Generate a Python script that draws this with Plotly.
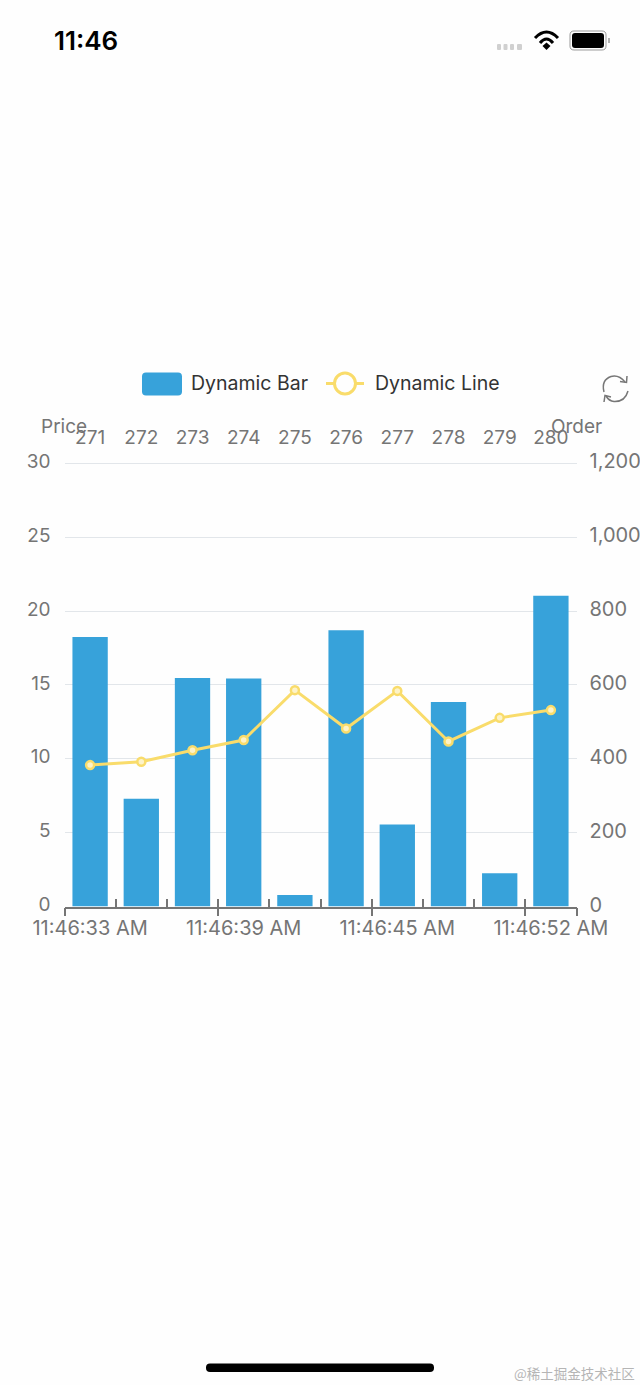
import plotly.graph_objects as go

order_ids = [271, 272, 273, 274, 275, 276, 277, 278, 279, 280]
price = [18.25, 7.3, 15.47, 15.44, 0.78, 18.7, 5.55, 13.85, 2.25, 21.05]
order = [383, 392, 423, 451, 586, 482, 584, 447, 511, 532]
time_ticks = [271, 274, 277, 280]
time_labels = ['11:46:33 AM', '11:46:39 AM', '11:46:45 AM', '11:46:52 AM']
minor_ticks = [270.5, 271.5, 272.5, 273.5, 274.5, 275.5, 276.5, 277.5, 278.5, 279.5, 280.5]
major_ticks = [270.5, 273.5, 276.5, 279.5, 280.5]

WIDTH = 640
HEIGHT = 1385
FONT = 'Inter'
GREY = '#757575'
BLUE = '#37a2da'
YELLOW = '#f9dc6b'


# everything outside the plot is placed in screen pixels
def px(x):
    return x / WIDTH


def py(y):
    return 1 - y / HEIGHT


def path(*parts):
    out = []
    for p in parts:
        if isinstance(p, str):
            out.append(p)
        else:
            out.append(f"{px(p[0]):.5f},{py(p[1]):.5f}")
    return ' '.join(out)


def rounded_rect(x0, y0, x1, y1, r):
    return path('M', (x0 + r, y0), 'L', (x1 - r, y0), 'Q', (x1, y0), (x1, y0 + r),
                'L', (x1, y1 - r), 'Q', (x1, y1), (x1 - r, y1),
                'L', (x0 + r, y1), 'Q', (x0, y1), (x0, y1 - r),
                'L', (x0, y0 + r), 'Q', (x0, y0), (x0 + r, y0), 'Z')


def shape(d, fill='rgba(0,0,0,0)', line=None, width=0):
    return dict(type='path', xref='paper', yref='paper', path=d, fillcolor=fill,
                line=dict(color=line or 'rgba(0,0,0,0)', width=width), layer='above')


def label(text, x, y, size=18.5, color=GREY, anchor='center', family=FONT, weight=400):
    return dict(text=text, x=px(x), y=py(y), xref='paper', yref='paper', xanchor=anchor, yanchor='middle',
                showarrow=False, font=dict(size=size, color=color, family=family, weight=weight))


fig = go.Figure()
fig.add_trace(go.Bar(x=order_ids, y=price, name='Dynamic Bar', marker=dict(color=BLUE, line_width=0),
                     xaxis='x', yaxis='y'))
fig.add_trace(go.Scatter(x=order_ids, y=order, name='Dynamic Line', mode='lines+markers',
                         line=dict(color=YELLOW, width=3),
                         marker=dict(size=8, color='#fdf3c8', line=dict(color=YELLOW, width=2.5)),
                         xaxis='x', yaxis='y2'))

shapes = [
    # legend swatches
    shape(rounded_rect(142, 372.5, 182, 395.5, 4), fill=BLUE),
    shape(path('M', (326, 383.5), 'L', (364, 383.5)), line=YELLOW, width=3),
    dict(type='circle', xref='paper', yref='paper', x0=px(334.5), x1=px(355.5), y0=py(394), y1=py(373),
         fillcolor='#fefefe', line=dict(color=YELLOW, width=3), layer='above'),
    # refresh icon
    shape(path('M', (604, 392), 'Q', (601, 380), (611, 376.5), 'Q', (619, 374.5), (625, 382)), line='#777777', width=1.5),
    shape(path('M', (627, 376), 'L', (626.5, 382.5), 'L', (620, 381.5)), line='#777777', width=1.5),
    shape(path('M', (628, 391), 'Q', (625, 402), (614, 401.5), 'Q', (609, 401), (606, 396)), line='#777777', width=1.5),
    shape(path('M', (604, 402), 'L', (605, 395.5), 'L', (611, 397)), line='#777777', width=1.5),
    # status bar: signal, wifi, battery
    shape(rounded_rect(497, 44, 501, 50, 1), fill='#d0d0d0'),
    shape(rounded_rect(503.5, 44, 507.5, 50, 1), fill='#d0d0d0'),
    shape(rounded_rect(510, 44, 514, 50, 1), fill='#d0d0d0'),
    shape(rounded_rect(517, 44, 522, 50, 1), fill='#d0d0d0'),
    shape(path('M', (535, 38), 'Q', (546.5, 26), (558, 38)), line='#000000', width=3),
    shape(path('M', (540, 43), 'Q', (546.5, 35), (553, 43)), line='#000000', width=3),
    shape(path('M', (542.5, 46), 'L', (546.5, 42.5), 'L', (550.5, 46), 'L', (546.5, 50), 'Z'), fill='#000000'),
    shape(rounded_rect(570, 31, 606, 50, 4), line='#9a9a9a', width=1),
    shape(rounded_rect(572, 33, 604, 48, 3), fill='#000000'),
    shape(path('M', (609, 38), 'L', (609, 43)), line='#9a9a9a', width=1.5),
    # home indicator
    shape(rounded_rect(206, 1363.5, 434, 1372, 4), fill='#000000'),
]

annotations = [
    label('11:46', 52, 41, size=26, color='#000000', anchor='left', weight=600),
    label('Dynamic Bar', 189, 383, size=19.5, color='#333333', anchor='left'),
    label('Dynamic Line', 373, 383, size=19.5, color='#333333', anchor='left'),
    label('Price', 64, 427, size=19),
    label('Order', 576, 427, size=19),
    label('@稀土掘金技术社区', 637, 1373, size=13.5, color='#b5b5b5', anchor='right', family='Noto Sans CJK SC'),
]

# y range runs just past the top tick so that its gridline is still drawn
x_domain = [px(64.5), px(576.5)]
y_domain = [py(906.5), py(462)]
x_range = [270.5, 280.5]
tick_font = dict(size=19, color=GREY, family=FONT)
wide_font = dict(size=20, color=GREY, family=FONT)

fig.update_layout(
    width=WIDTH, height=HEIGHT, autosize=False,
    margin=dict(l=0, r=0, t=0, b=0, pad=0, autoexpand=False),
    paper_bgcolor='#fefefe', plot_bgcolor='#fefefe',
    showlegend=False, bargap=0.31,
    font=dict(family=FONT),
    shapes=shapes, annotations=annotations,
    xaxis=dict(domain=x_domain, range=x_range, tickmode='array', tickvals=time_ticks, ticktext=time_labels,
               tickfont=wide_font, ticks='', showgrid=False, zeroline=False, showline=True,
               linecolor=GREY, linewidth=1.5, anchor='y', ticklabelstandoff=3, automargin=False),
    xaxis2=dict(domain=x_domain, range=x_range, overlaying='x', side='top', anchor='y', tickmode='array',
                tickvals=order_ids, ticktext=[str(v) for v in order_ids], tickfont=tick_font, ticks='',
                showgrid=False, zeroline=False, showline=False, ticklabelstandoff=13, automargin=False),
    xaxis3=dict(domain=x_domain, range=x_range, overlaying='x', side='bottom', anchor='y', tickmode='array',
                tickvals=major_ticks, ticktext=['' for _ in major_ticks], ticks='outside', ticklen=8, tickwidth=1.5,
                tickcolor=GREY, showgrid=False, zeroline=False, showline=False),
    xaxis4=dict(domain=x_domain, range=x_range, overlaying='x', side='bottom', anchor='y', tickmode='array',
                tickvals=minor_ticks, ticktext=['' for _ in minor_ticks], ticks='inside', ticklen=8, tickwidth=1.5,
                tickcolor=GREY, showgrid=False, zeroline=False, showline=False),
    yaxis=dict(domain=y_domain, range=[0, 30.1], tickvals=[0, 5, 10, 15, 20, 25, 30], tickfont=tick_font, ticks='',
               gridcolor='#e2e6ea', gridwidth=1.2, zeroline=False, showline=False, ticklabelstandoff=13,
               ticklabelshift=-2, automargin=False),
    yaxis2=dict(domain=y_domain, range=[0, 1204], overlaying='y', side='right', anchor='x',
                tickvals=[0, 200, 400, 600, 800, 1000, 1200], tickformat=',', tickfont=wide_font, ticks='',
                showgrid=False, zeroline=False, showline=False, ticklabelstandoff=12, ticklabelshift=-2,
                automargin=False),
)
# the extra x axes only exist if something references them
for ax in ['x2', 'x3', 'x4']:
    fig.add_trace(go.Scatter(x=[], y=[], xaxis=ax, yaxis='y', showlegend=False))

fig.write_html("out.html", config={'displayModeBar': False}, post_script="document.body.style.margin='0';")
